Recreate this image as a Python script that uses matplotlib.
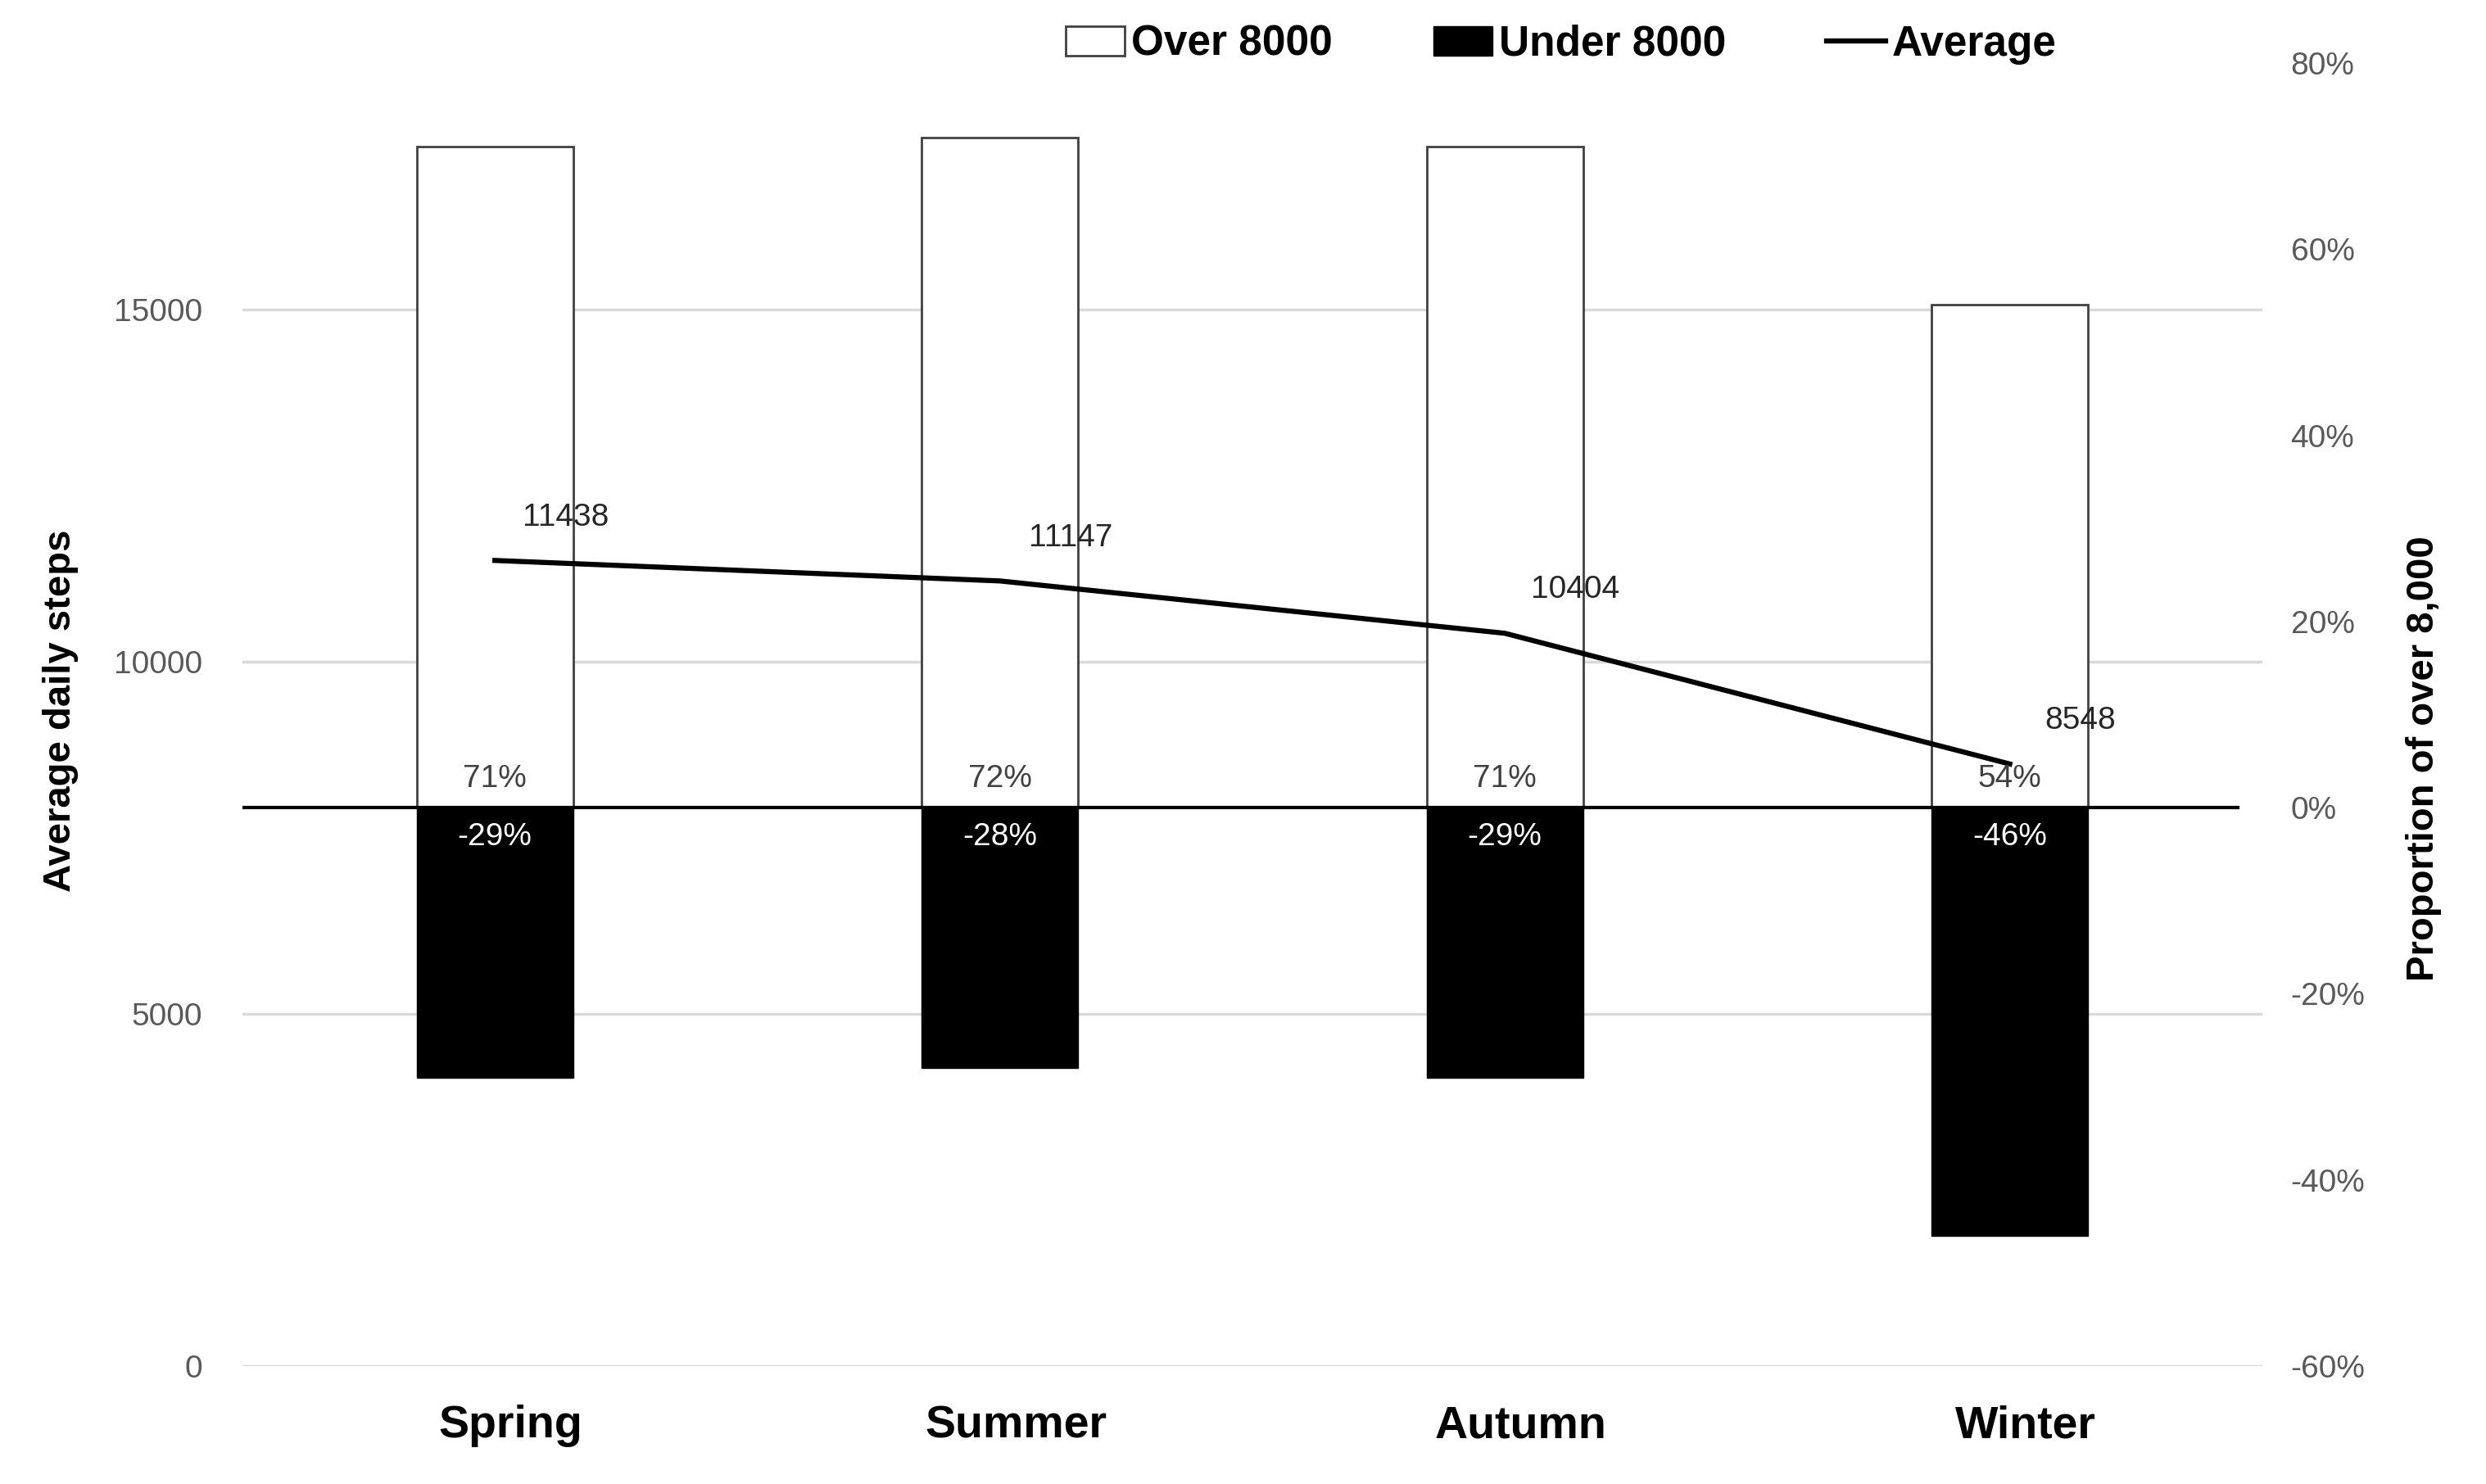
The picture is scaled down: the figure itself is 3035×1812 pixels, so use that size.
import matplotlib
matplotlib.use("Agg")
from matplotlib import pyplot as plt
from matplotlib.patches import Patch
from matplotlib.lines import Line2D
from matplotlib.ticker import FuncFormatter
from matplotlib.transforms import ScaledTranslation

plt.rcParams["font.family"] = ["Liberation Sans", "DejaVu Sans"]

seasons = ["Spring", "Summer", "Autumn", "Winter"]
avg_steps = [11438, 11147, 10404, 8548]
over_pct = [71, 72, 71, 54]
under_pct = [-29, -28, -29, -46]

x = list(range(len(seasons)))

fig = plt.figure(figsize=(30.35, 18.12), dpi=100)
ax = fig.add_axes([0.0975, 0.0795, 0.8125, 0.878])
ax2 = ax.twinx()

# left axis: steps, gridlines behind everything
ax.set_xlim(-0.5, 3.5)
ax.set_ylim(0, 18500)
ax.set_yticks([0, 5000, 10000, 15000])
ax.grid(axis="y", color="#d9d9d9", lw=2.5)
ax.set_axisbelow(True)

# right axis: proportion bars
ax2.set_ylim(-60, 80)
ax2.set_yticks(range(-60, 81, 20))
ax2.yaxis.set_major_formatter(FuncFormatter(lambda v, p: f"{v:.0f}%"))

w = 0.31
ax2.bar(x, over_pct, width=w, color="white", edgecolor="#404040", lw=2, zorder=2)
ax2.bar(x, under_pct, width=w, color="black", edgecolor="black", lw=1, zorder=2)
ax2.axhline(0, xmin=0, xmax=0.988, color="black", lw=3, zorder=3)

for xi, o, u in zip(x, over_pct, under_pct):
    ax2.annotate(f"{o}%", (xi, 0), xytext=(0, 12), textcoords="offset points",
                 ha="center", va="bottom", fontsize=28, color="#404040", zorder=6)
    ax2.annotate(f"{u}%", (xi, 0), xytext=(0, -13), textcoords="offset points",
                 ha="center", va="top", fontsize=28, color="white", zorder=6)

# average line, drawn on top of the bars but in step units
ax2.plot(x, avg_steps, color="black", lw=4.5, transform=ax.transData, zorder=5)
for xi, s in zip(x, avg_steps):
    ax2.annotate(str(s), (xi, s), xycoords=ax.transData, xytext=(62, 38),
                 textcoords="offset points", ha="center", va="center",
                 fontsize=28, color="#262626", zorder=6)

ax.set_xticks(x)
ax.set_xticklabels(seasons, fontsize=40, fontweight="bold")
ax.tick_params(axis="x", length=0, pad=34)
shift = ScaledTranslation(14 / 72, 0, fig.dpi_scale_trans)
for lab in ax.get_xticklabels():
    lab.set_transform(lab.get_transform() + shift)
ax.tick_params(axis="y", length=0, pad=35, labelsize=28, labelcolor="#595959")
ax2.tick_params(axis="y", length=0, pad=25, labelsize=28, labelcolor="#595959")

for a in (ax, ax2):
    for sp in a.spines.values():
        sp.set_visible(False)

ax.set_ylabel("Average daily steps", fontsize=34, fontweight="bold")
ax.yaxis.set_label_coords(-0.081, 0.503)
ax2.set_ylabel("Proportion of over 8,000", fontsize=34, fontweight="bold")
ax2.yaxis.set_label_coords(1.071, 0.466)

handles = [Patch(facecolor="white", edgecolor="#404040", lw=2),
           Patch(facecolor="black", edgecolor="black"),
           Line2D([], [], color="black", lw=4.5)]
fig.legend(handles, ["Over 8000", "Under 8000", "Average"], ncol=3,
           loc="center", bbox_to_anchor=(0.628, 0.970), frameon=False,
           prop={"size": 37, "weight": "bold"}, handlelength=1.4,
           handletextpad=0.15, columnspacing=2.4)

plt.savefig("out.png", dpi=100)
